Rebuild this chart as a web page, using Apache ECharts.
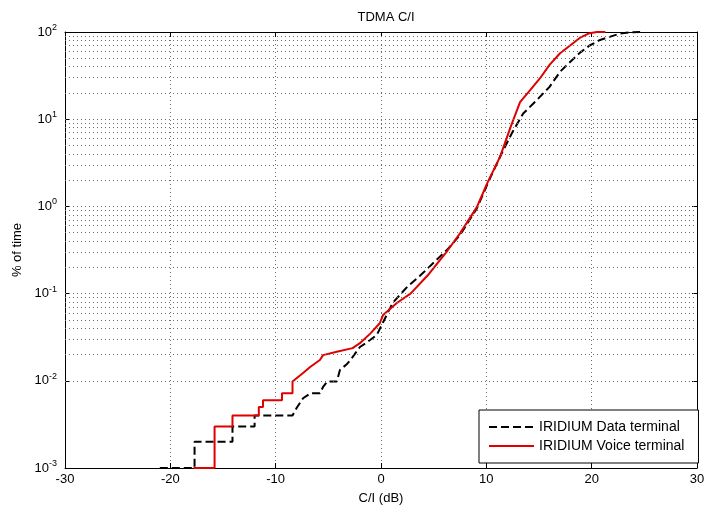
<!DOCTYPE html>
<html>
<head>
<meta charset="utf-8">
<script src="https://cdn.jsdelivr.net/npm/echarts@6/dist/echarts.min.js"></script>
<style>
html,body{margin:0;padding:0;background:#fff;}
#chart{width:709px;height:512px;}
</style>
</head>
<body>
<div id="chart"></div>
<script>
var titleText = 'TDMA C/I';
var xAxisName = 'C/I (dB)';
var yAxisName = '% of time';
var seriesNames = ['IRIDIUM Data terminal', 'IRIDIUM Voice terminal'];
var xTicks = [-30, -20, -10, 0, 10, 20, 30];
var yDecades = [0.001, 0.01, 0.1, 1, 10, 100];

var dataX = [-21.0, -17.7, -17.7, -14.1, -14.1, -12.0, -12.0, -8.4, -8.0, -7.4, -6.7, -5.8, -5.5, -5.1, -4.2, -3.9, -3.2, -2.7, -2.0, -1.3, -0.4, 0.2, 1.1, 2.5, 3.7, 6.3, 7.5, 9.1, 10.4, 11.6, 12.5, 13.5, 14.8, 16.0, 17.0, 17.9, 18.9, 19.8, 20.8, 21.7, 22.7, 23.6, 24.6];
var dataY = [0.001, 0.001, 0.002, 0.002, 0.003, 0.003, 0.004, 0.004, 0.0049, 0.0063, 0.0072, 0.0072, 0.0085, 0.0098, 0.0098, 0.0133, 0.0157, 0.0187, 0.0244, 0.0278, 0.0335, 0.047, 0.078, 0.12, 0.16, 0.32, 0.47, 0.95, 2.17, 4.4, 7.2, 11.6, 16.6, 23.5, 35, 44.6, 58, 70, 81, 88, 96, 99, 100];

var voiceX = [-17.8, -15.8, -15.8, -14.1, -14.1, -11.6, -11.6, -11.2, -11.2, -9.4, -9.4, -8.4, -8.4, -7.4, -6.7, -5.8, -5.5, -4.2, -2.7, -2.0, -1.0, -0.1, 0.2, 1.5, 2.8, 4.4, 6.3, 7.5, 9.1, 10.1, 11.3, 12.3, 13.2, 14.2, 15.1, 16.0, 17.0, 18.9, 19.8, 20.5, 21.3];
var voiceY = [0.001, 0.001, 0.003, 0.003, 0.004, 0.004, 0.005, 0.005, 0.006, 0.006, 0.0072, 0.0072, 0.0098, 0.0123, 0.0145, 0.0173, 0.0197, 0.0215, 0.0237, 0.027, 0.035, 0.046, 0.057, 0.078, 0.10, 0.16, 0.31, 0.49, 0.98, 1.86, 3.7, 8.1, 15.7, 21.8, 29.5, 42, 57, 86, 97, 100, 100];

function pairs(xs, ys) { return xs.map(function (x, i) { return [x, ys[i]]; }); }

var gridLineStyle = { color: '#6a6a6a', width: 1, type: [1, 3] };
var minorLines = [];
yDecades.slice(0, -1).forEach(function (d) {
  for (var k = 1; k <= 9; k++) minorLines.push({ yAxis: d * k });
});

var font = 'Liberation Sans, Arial, sans-serif';
var chart = echarts.init(document.getElementById('chart'), null, { renderer: 'canvas' });
chart.setOption({
  animation: false,
  backgroundColor: '#fff',
  textStyle: { fontFamily: font, color: '#000' },
  title: {
    text: titleText, left: 381, top: 6, textAlign: 'center',
    textStyle: { fontSize: 13, fontWeight: 'normal', color: '#000', fontFamily: font }
  },
  grid: { left: 65, right: 12, top: 32, bottom: 44, containLabel: false },
  legend: {
    data: seriesNames, orient: 'vertical', left: 479, top: 410,
    padding: [10, 14, 10, 9], itemGap: 5, itemWidth: 45, itemHeight: 14,
    backgroundColor: '#fff', borderColor: '#000', borderWidth: 1, borderRadius: 0,
    itemStyle: { opacity: 0, borderWidth: 0 },
    textStyle: { fontSize: 14, color: '#000', fontFamily: font, padding: [0, 0, 0, 0] }
  },
  xAxis: [{
    type: 'value', min: -30, max: 30, interval: 10, position: 'bottom',
    name: xAxisName, nameLocation: 'middle', nameGap: 24,
    nameTextStyle: { fontSize: 13, color: '#000', fontFamily: font },
    axisLine: { onZero: false, lineStyle: { color: '#000', width: 1 } },
    axisTick: { inside: true, length: 5, lineStyle: { color: '#000' } },
    axisLabel: { fontSize: 13, color: '#000', margin: 5, fontFamily: font },
    splitLine: { show: true, lineStyle: gridLineStyle }
  }, {
    type: 'value', min: -30, max: 30, interval: 10, position: 'top',
    axisLine: { onZero: false, lineStyle: { color: '#000', width: 1 } },
    axisTick: { inside: true, length: 5, lineStyle: { color: '#000' } },
    axisLabel: { show: false }, splitLine: { show: false }
  }],
  yAxis: [{
    type: 'log', logBase: 10, min: 0.001, max: 100, splitNumber: 5, position: 'left',
    name: yAxisName, nameLocation: 'middle', nameGap: 40, nameRotate: 90,
    nameTextStyle: { fontSize: 13, color: '#000', fontFamily: font },
    axisLine: { show: true, onZero: false, lineStyle: { color: '#000', width: 1 } },
    axisTick: { show: true, inside: true, length: 5, lineStyle: { color: '#000' } },
    axisLabel: {
      margin: 8, color: '#000', fontFamily: font,
      formatter: function (v) { return '{b|10}{s|' + Math.round(Math.log10(v)) + '}'; },
      rich: {
        b: { fontSize: 13, fontFamily: font, color: '#000' },
        s: { fontSize: 9, fontFamily: font, color: '#000', padding: [0, 0, 9, 0] }
      }
    },
    splitLine: { show: false }
  }, {
    type: 'log', logBase: 10, min: 0.001, max: 100, splitNumber: 5, position: 'right',
    axisLine: { show: true, onZero: false, lineStyle: { color: '#000', width: 1 } },
    axisTick: { show: true, inside: true, length: 5, lineStyle: { color: '#000' } },
    axisLabel: { show: false }, splitLine: { show: false }
  }],
  series: [{
    name: 'gridlines', type: 'line', data: [], silent: true, z: 1,
    markLine: { silent: true, symbol: ['none', 'none'], label: { show: false },
      lineStyle: gridLineStyle, animation: false, data: minorLines }
  }, {
    name: seriesNames[0], type: 'line', data: pairs(dataX, dataY), showSymbol: false, symbol: 'none',
    lineStyle: { color: '#000', width: 2, type: [8, 4] }, itemStyle: { color: '#000' }, z: 3
  }, {
    name: seriesNames[1], type: 'line', data: pairs(voiceX, voiceY), showSymbol: false, symbol: 'none',
    lineStyle: { color: '#e00000', width: 2, type: 'solid' }, itemStyle: { color: '#e00000' }, z: 4
  }]
});
</script>
</body>
</html>
